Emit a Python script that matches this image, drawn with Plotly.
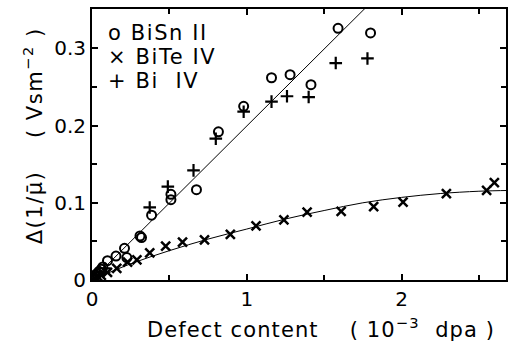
import plotly.graph_objects as go

# ---- data ----
bisn_x = [0.01, 0.02, 0.03, 0.045, 0.06, 0.07, 0.10, 0.155, 0.21, 0.225, 0.31, 0.32, 0.385,
          0.51, 0.51, 0.675, 0.817, 0.98, 1.16, 1.28, 1.415, 1.59, 1.80]
bisn_y = [0.003, 0.006, 0.008, 0.011, 0.014, 0.017, 0.025, 0.031, 0.041, 0.029, 0.057, 0.055, 0.084,
          0.111, 0.104, 0.117, 0.192, 0.225, 0.262, 0.266, 0.253, 0.326, 0.320]

bite_x = [0.02, 0.04, 0.06, 0.10, 0.16, 0.23, 0.29, 0.373, 0.476, 0.585, 0.727, 0.894, 1.06,
          1.24, 1.39, 1.61, 1.82, 2.01, 2.29, 2.55, 2.60]
bite_y = [0.002, 0.004, 0.006, 0.010, 0.015, 0.023, 0.026, 0.035, 0.044, 0.049, 0.052, 0.059, 0.070,
          0.078, 0.088, 0.089, 0.095, 0.101, 0.112, 0.116, 0.126]

bi_x = [0.01, 0.03, 0.05, 0.08, 0.373, 0.49, 0.656, 0.80, 0.98, 1.16, 1.26, 1.40, 1.575, 1.78]
bi_y = [0.002, 0.006, 0.010, 0.015, 0.094, 0.121, 0.142, 0.183, 0.218, 0.231, 0.238, 0.237, 0.281, 0.287]

# fitted lines
fit1_x = [0.0, 1.80]
fit1_y = [0.0, 0.359]
fit2_x = [0.0, 0.25, 0.5, 0.75, 1.0, 1.25, 1.5, 1.75, 2.0, 2.25, 2.5, 2.7]
fit2_y = [0.0, 0.021, 0.038, 0.053, 0.066, 0.079, 0.090, 0.100, 0.107, 0.112, 0.115, 0.116]

x_tickvals = [0, 1, 2]
x_ticktext = ["0", "1", "2"]
y_tickvals = [0, 0.1, 0.2, 0.3]
y_ticktext = ["0", "0.1", "0.2", "0.3"]

legend_labels = ["o BiSn II", "× BiTe IV", "+ Bi  IV"]

FONT = "DejaVu Sans"

fig = go.Figure()
fig.add_trace(go.Scatter(x=fit1_x, y=fit1_y, mode="lines",
                         line=dict(color="black", width=1), showlegend=False))
fig.add_trace(go.Scatter(x=fit2_x, y=fit2_y, mode="lines", line_shape="spline",
                         line=dict(color="black", width=1), showlegend=False))
fig.add_trace(go.Scatter(x=bisn_x, y=bisn_y, mode="markers", showlegend=False,
                         marker=dict(symbol="circle-open", size=9, color="black",
                                     line=dict(width=2, color="black"))))
fig.add_trace(go.Scatter(x=bite_x, y=bite_y, mode="markers", showlegend=False,
                         marker=dict(symbol="x-thin-open", size=9, color="black",
                                     line=dict(width=2.5, color="black"))))
fig.add_trace(go.Scatter(x=bi_x, y=bi_y, mode="markers", showlegend=False,
                         marker=dict(symbol="cross-thin-open", size=9, color="black",
                                     line=dict(width=2.2, color="black"))))

L, R, T, B = 92, 508, 9, 280
W, H = 510, 345

def px(xp):
    return (xp - L) / (R - L)

def py(yp):
    return (B - yp) / (B - T)

def spaced(s, ls):
    return "<span style='letter-spacing:%.1fpx'>%s</span>" % (ls, s)

annotations = []
for i, lab in enumerate(legend_labels):
    annotations.append(dict(text=spaced(lab, 1.6), x=px(106), y=py(33 + i * 24), xref="paper", yref="paper",
                            xanchor="left", yanchor="middle", showarrow=False,
                            font=dict(family=FONT, size=21, color="black")))
annotations.append(dict(text=spaced("Defect content    ( 10<sup>−3</sup>  dpa )", 1.1), x=px(322), y=py(328),
                        xref="paper", yref="paper", xanchor="center", yanchor="middle",
                        showarrow=False, font=dict(family=FONT, size=21, color="black")))
annotations.append(dict(text=spaced("Δ(1/μ̄)    ( Vsm<sup>−2</sup> )", 1.5), x=px(33), y=py(136),
                        xref="paper", yref="paper", xanchor="center", yanchor="middle",
                        textangle=-90, showarrow=False,
                        font=dict(family=FONT, size=21, color="black")))

tick_common = dict(ticks="inside", ticklen=6, tickwidth=1.5, tickcolor="black",
                   showline=True, linewidth=2, linecolor="black", mirror="ticks",
                   showgrid=False, zeroline=False, tickfont=dict(size=20))

fig.update_layout(
    width=W, height=H,
    margin=dict(l=L, r=W - R, t=T, b=H - B, pad=0),
    paper_bgcolor="white", plot_bgcolor="white",
    font=dict(family=FONT, size=20, color="black"),
    annotations=annotations,
    xaxis=dict(range=[0, (R - L) / 155.5], tickvals=x_tickvals, ticktext=x_ticktext,
               minor=dict(dtick=0.5, tick0=0, ticks="inside", ticklen=5, tickwidth=1.5,
                          tickcolor="black", showgrid=False),
               **tick_common),
    yaxis=dict(range=[0, (B - T) / 772.0], tickvals=y_tickvals, ticktext=y_ticktext,
               minor=dict(dtick=0.05, tick0=0, ticks="inside", ticklen=5, tickwidth=1.5,
                          tickcolor="black", showgrid=False),
               **tick_common),
)

fig.write_html("out.html")
